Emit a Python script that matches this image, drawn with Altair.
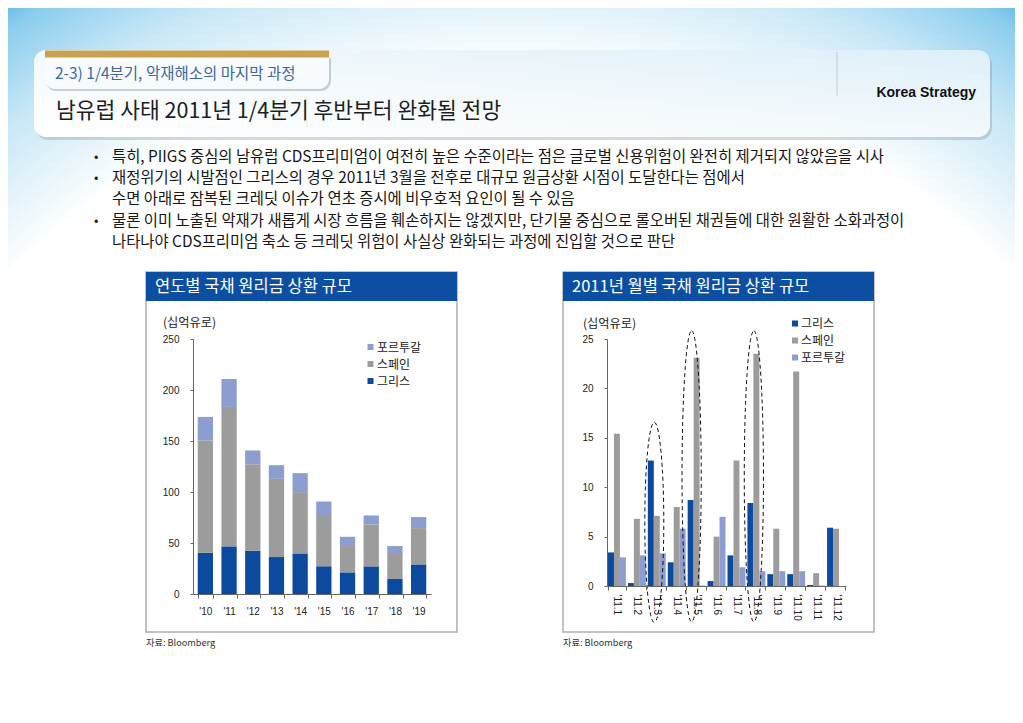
import altair as alt
import pandas as pd

# ---------------- data ----------------
series = ["그리스", "스페인", "포르투갈"]
colors = ["#0B4A9E", "#9C9C9C", "#8C9ED0"]

years = ["'10", "'11", "'12", "'13", "'14", "'15", "'16", "'17", "'18", "'19"]
greece_y = [40.5, 46.7, 42.4, 36.2, 39.8, 27.1, 21.2, 27.1, 14.7, 29.0]
spain_y = [110.0, 136.7, 84.9, 76.7, 60.1, 49.3, 25.8, 41.1, 24.5, 35.6]
portugal_y = [23.1, 27.4, 13.4, 13.4, 18.6, 14.3, 9.1, 8.8, 7.8, 10.8]

months = ["'11.1", "'11.2", "'11.3", "'11.4", "'11.5", "'11.6",
          "'11.7", "'11.8", "'11.9", "'11.10", "'11.11", "'11.12"]
greece_m = [3.4, 0.3, 12.7, 2.4, 8.7, 0.5, 3.1, 8.4, 1.2, 1.2, 0.1, 5.9]
spain_m = [15.4, 6.8, 7.1, 8.0, 23.1, 5.0, 12.7, 23.5, 5.8, 21.7, 1.3, 5.8]
portugal_m = [2.9, 3.1, 3.3, 5.8, 0.05, 7.0, 1.9, 1.5, 1.5, 1.5, 0.05, 0.0]

highlight_months = ["'11.3", "'11.5", "'11.8"]

section_label = "2-3) 1/4분기, 악재해소의 마지막 과정"
title_text = "남유럽 사태 2011년 1/4분기 후반부터 완화될 전망"
brand_text = "Korea Strategy"
bullet_lines = [
    "특히, PIIGS 중심의 남유럽 CDS프리미엄이 여전히 높은 수준이라는 점은 글로벌 신용위험이 완전히 제거되지 않았음을 시사",
    "재정위기의 시발점인 그리스의 경우 2011년 3월을 전후로 대규모 원금상환 시점이 도달한다는 점에서",
    "수면 아래로 잠복된 크레딧 이슈가 연초 증시에 비우호적 요인이 될 수 있음",
    "물론 이미 노출된 악재가 새롭게 시장 흐름을 훼손하지는 않겠지만, 단기물 중심으로 롤오버된 채권들에 대한 원활한 소화과정이",
    "나타나야 CDS프리미엄 축소 등 크레딧 위험이 사실상 완화되는 과정에 진입할 것으로 판단",
]
bullet_marks = [True, True, False, True, False]
left_title = "연도별 국채 원리금 상환 규모"
right_title = "2011년 월별 국채 원리금 상환 규모"
unit_text = "(십억유로)"
source_text = "자료: Bloomberg"

# ---------------- tables ----------------
rows = []
for i, y in enumerate(years):
    for r, (s, vals) in enumerate(zip(series, [greece_y, spain_y, portugal_y])):
        rows.append({"year": y, "series": s, "value": vals[i], "rank": r})
dfL = pd.DataFrame(rows)

rows = []
for i, m in enumerate(months):
    for r, (s, vals) in enumerate(zip(series, [greece_m, spain_m, portugal_m])):
        rows.append({"month": m, "series": s, "value": vals[i], "rank": r})
dfR = pd.DataFrame(rows)

KO = "Noto Sans CJK KR"
EN = "Liberation Sans"

# left plot origin on the page
OX, OY = 193, 339
LW, LH = 238, 255
RW, RH = 239, 247
SPACING = 176


def X(px):
    return px - OX


def Y(py):
    return py - OY


one = pd.DataFrame({"k": [0]})


def box(x1, y1, x2, y2, **kw):
    return alt.Chart(one).mark_rect(**kw).encode(
        x=alt.value(X(x1)), x2=alt.value(X(x2)),
        y=alt.value(Y(y1)), y2=alt.value(Y(y2)))


def txt(s, x, y, **kw):
    kw.setdefault("align", "left")
    kw.setdefault("baseline", "middle")
    kw.setdefault("font", KO)
    return alt.Chart(one).mark_text(**kw).encode(
        x=alt.value(X(x)), y=alt.value(Y(y)), text=alt.value(s))


bg_grad = alt.RadialGradient(
    gradient="radial", x1=0.5, y1=0.9, r1=0.0, x2=0.5, y2=0.9, r2=0.95,
    stops=[alt.GradientStop(color="#FFFFFF", offset=0.0),
           alt.GradientStop(color="#FFFFFF", offset=0.73),
           alt.GradientStop(color="#C8E7F6", offset=0.85),
           alt.GradientStop(color="#8CCDEE", offset=0.93),
           alt.GradientStop(color="#1E9CD9", offset=1.0)])

panel_grad = alt.LinearGradient(
    gradient="linear", x1=0, y1=1, x2=1, y2=0,
    stops=[alt.GradientStop(color="#FFFFFF", offset=0.0),
           alt.GradientStop(color="#F3F9FC", offset=0.5),
           alt.GradientStop(color="#DDEFF8", offset=1.0)])

decor = [
    box(8, 8, 1015, 715, fill=bg_grad),
    # header panel
    box(36, 53, 992, 140, fill="#7F95A3", opacity=0.35, cornerRadius=12),
    box(34, 50, 990, 137, fill=panel_grad, cornerRadius=12),
    box(46, 58, 331, 91, fill="#8E9AA2", opacity=0.45,
        cornerRadiusBottomLeft=10, cornerRadiusBottomRight=10),
    box(45, 57, 329, 89, fill="#F8FBFD",
        cornerRadiusBottomLeft=10, cornerRadiusBottomRight=10),
    box(45, 50.5, 329, 57.5, fill="#C8A24E"),
    box(836.5, 52, 837.5, 96, fill="#C3CBD0"),
    txt(section_label, 55, 74, fontSize=15.5, color="#3F679C"),
    txt(title_text, 56, 112, fontSize=21.5, color="#1E1E1E"),
    txt(brand_text, 976, 93, font=EN, fontSize=14, fontWeight="bold",
        color="#111111", align="right"),
]

line_y = [157, 178, 199, 221, 242]
for s, yy, b in zip(bullet_lines, line_y, bullet_marks):
    if b:
        decor.append(txt("•", 94, yy, fontSize=13, color="#222222"))
    decor.append(txt(s, 112, yy, fontSize=15.4, color="#161616"))

# chart panels
for (x1, x2, head) in [(146, 457, left_title), (563, 874, right_title)]:
    decor.append(box(x1, 272, x2, 632, fill="#FFFFFF", stroke="#AEAEAE",
                     strokeWidth=1.5))
    decor.append(box(x1, 272, x2, 301, fill="#0C4EA2"))
    decor.append(txt(head, x1 + 9, 287, fontSize=16.5, color="#FFFFFF"))
    decor.append(txt(source_text, x1, 643, fontSize=9.2, color="#333333"))

decor.append(txt(unit_text, 163, 323, fontSize=12.2, color="#222222"))
decor.append(txt(unit_text, 583, 324, fontSize=12.2, color="#222222"))

# manual legends
left_leg_y = {"포르투갈": 347.5, "스페인": 364.5, "그리스": 381.5}
right_leg_y = {"그리스": 324, "스페인": 341, "포르투갈": 358}
for s, c in zip(series, colors):
    yy = left_leg_y[s]
    decor.append(box(367.5, yy - 3.5, 373.5, yy + 2.5, fill=c))
    decor.append(txt(s, 377, yy, fontSize=12, color="#222222"))
    yy = right_leg_y[s]
    decor.append(box(792, yy - 3.5, 798, yy + 2.5, fill=c))
    decor.append(txt(s, 801, yy, fontSize=12, color="#222222"))

color_enc = alt.Color("series:N", scale=alt.Scale(domain=series, range=colors),
                      legend=None)

axis_common = dict(title=None, labelFont=EN, labelFontSize=10,
                   labelColor="#222222", domainColor="#666666",
                   tickColor="#666666", zindex=1)

bars_left = alt.Chart(dfL).mark_bar().encode(
    x=alt.X("year:N", sort=years,
            scale=alt.Scale(paddingInner=0.355, paddingOuter=0.2),
            axis=alt.Axis(labelAngle=0, tickBand="extent", tickSize=4,
                          labelPadding=8, **axis_common)),
    y=alt.Y("value:Q", stack="zero",
            scale=alt.Scale(domain=[0, 250], nice=False),
            axis=alt.Axis(values=[0, 50, 100, 150, 200, 250], grid=False,
                          tickSize=3, labelPadding=11, **axis_common)),
    color=color_enc,
    order=alt.Order("rank:Q", sort="ascending"),
)

left = alt.layer(*decor, bars_left).properties(width=LW, height=LH)

bars_right = alt.Chart(dfR).mark_bar().encode(
    x=alt.X("month:N", sort=months,
            scale=alt.Scale(paddingInner=0.1, paddingOuter=0.05),
            axis=alt.Axis(labelAngle=90, tickBand="extent", tickSize=4,
                          labelPadding=4, **axis_common)),
    xOffset=alt.XOffset("series:N", sort=series,
                        scale=alt.Scale(paddingInner=0, paddingOuter=0)),
    y=alt.Y("value:Q", scale=alt.Scale(domain=[0, 25], nice=False),
            axis=alt.Axis(values=[0, 5, 10, 15, 20, 25], grid=False,
                          tickSize=3, labelPadding=11, **axis_common)),
    color=color_enc,
)

# dashed ellipse annotations (custom symbol paths)
ell_short = "M 0 -1 A 0.095 1 0 1 1 0 1 A 0.095 1 0 1 1 0 -1 Z"
ell_tall = "M 0 -1 A 0.066 1 0 1 1 0 1 A 0.066 1 0 1 1 0 -1 Z"
ell_specs = [(highlight_months[0], ell_short, 40000, 6.45, -2.5),
             (highlight_months[1], ell_tall, 84700, 11.1, -5.0),
             (highlight_months[2], ell_tall, 84700, 11.1, -2.5)]
ells = []
for m, shp, sz, cy, off in ell_specs:
    ells.append(
        alt.Chart(pd.DataFrame({"month": [m]})).mark_point(
            shape=shp, size=sz, filled=False, stroke="#111111",
            strokeWidth=1, strokeDash=[4, 3], opacity=1, xOffset=off
        ).encode(x=alt.X("month:N", sort=months), y=alt.datum(cy)))

right = alt.layer(bars_right, *ells).properties(width=RW, height=RH)

chart = alt.hconcat(left, right, spacing=SPACING, bounds="flush").properties(
    padding=0
).configure_view(stroke=None)

chart.save("out.html", embed_options={"renderer": "svg", "actions": False})
